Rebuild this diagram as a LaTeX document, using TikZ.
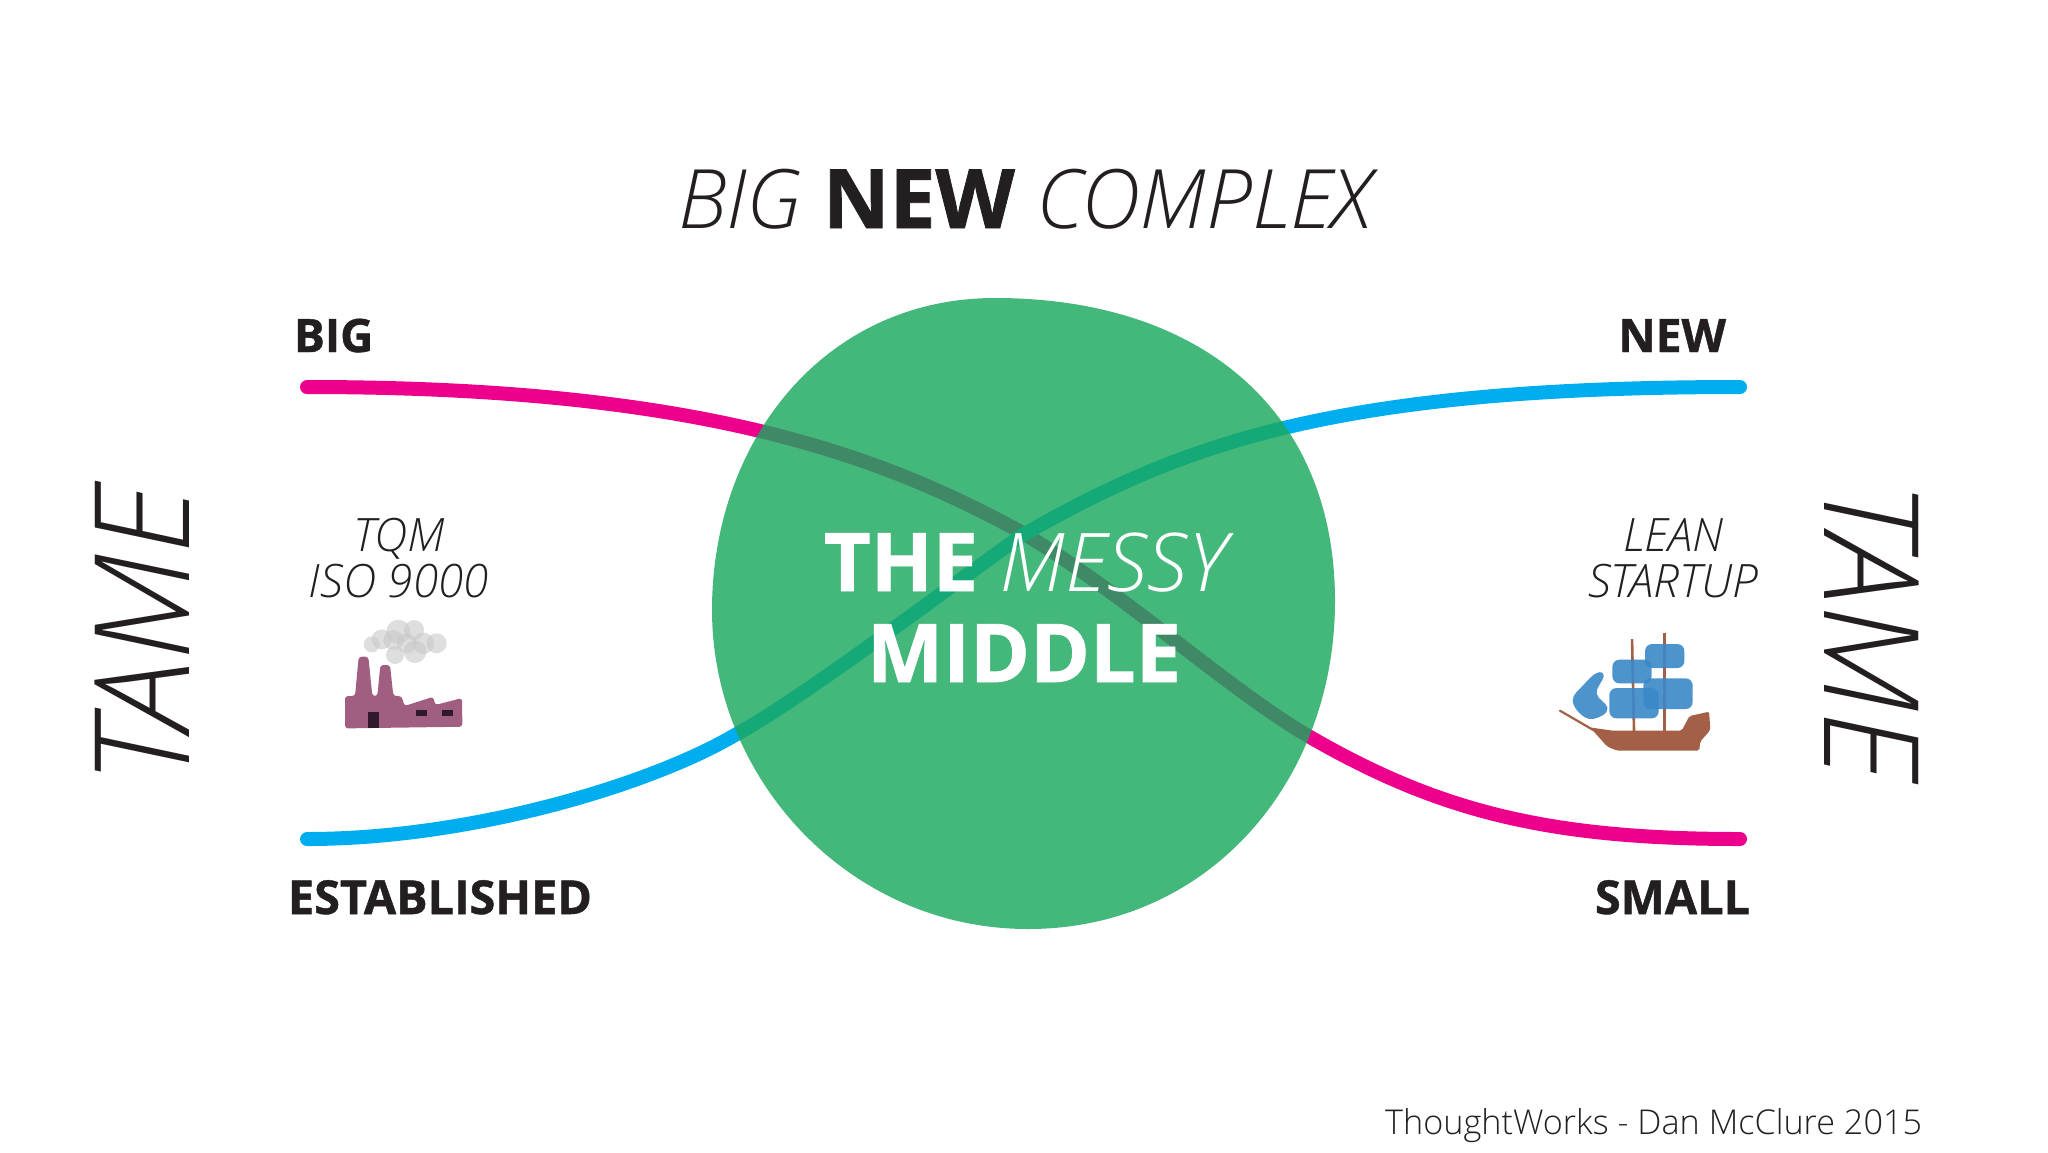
\documentclass[tikz,border=0pt]{standalone}
\usepackage{fontspec}
\setmainfont{Open Sans}
\newfontfamily\oslight[ItalicFont={Open Sans Light Italic}]{Open Sans Light}
\newfontfamily\osx[BoldFeatures={FakeBold=1.0}]{Open Sans}
\newcommand{\lit}{\oslight\itshape}
\newcommand{\xb}{\osx\bfseries}
\newcommand{\fs}[1]{\fontsize{#1}{#1}\selectfont}
\definecolor{ink}{HTML}{231F20}
\definecolor{mag}{HTML}{EC008C}
\definecolor{sky}{HTML}{00AEEF}
\definecolor{blob}{RGB}{27,168,94}
\definecolor{fact}{HTML}{A05F80}
\definecolor{factd}{HTML}{2E1A2C}
\definecolor{hull}{HTML}{A45F47}
\definecolor{sail}{HTML}{3A88C8}
\definecolor{smoke}{HTML}{C8C8C8}
\tikzset{
  x=0.5pt,y=-0.5pt,
  txt/.style={inner sep=0,outer sep=0,text=ink},
  curve/.style={line width=7pt,line cap=round},
  smokepuff/.style={smoke,opacity=.6},
  sailshape/.style={sail,opacity=.9,rounded corners=3.5pt},
}
\begin{document}
\begin{tikzpicture}
\useasboundingbox (0,0) rectangle (2048,1152);
\coordinate (bigstart) at (307,387);
\coordinate (smallend) at (1740,839);
\coordinate (eststart) at (307,839);
\coordinate (newend) at (1740,387);
\draw[curve,mag] (bigstart) .. controls (700,387) and (880,455) .. (1021,532) .. controls (1120,590) and (1230,691) .. (1310,737) .. controls (1440,812) and (1550,839) .. (smallend);
\draw[curve,sky] (eststart) .. controls (470,839) and (650,785) .. (735,735) .. controls (800,700) and (945,590) .. (1021,536) .. controls (1180,445) and (1330,387) .. (newend);
\fill[blob,opacity=.82] (995,298) .. controls (1200,298) and (1335,410) .. (1335,601) .. controls (1335,780) and (1210,929) .. (1028,929) .. controls (850,929) and (712,780) .. (712,610) .. controls (712,440) and (825,298) .. cycle;
% texts
\node[txt,anchor=base] (title) at (1025,228) {\fs{41}{\lit BIG }{\xb NEW }{\lit COMPLEX}};
\node[txt,anchor=base west] (big) at (294,352) {\fs{23}\xb BIG};
\node[txt,anchor=base east] (new) at (1726,352) {\fs{23}\xb NEW};
\node[txt,anchor=base west] (est) at (288,914) {\fs{23.4}\xb ESTABLISHED};
\node[txt,anchor=base east] (small) at (1750,914) {\fs{23.4}\xb SMALL};
\node[txt,anchor=base,text=white] (messy) at (1025,591) {\fs{40.5}{\xb THE }{\lit MESSY}};
\node[txt,anchor=base,text=white] (middle) at (1024,682) {\fs{40.5}\xb MIDDLE};
\node[txt,anchor=base] (tqm) at (399,551) {\fs{23}\lit TQM};
\node[txt,anchor=base] (iso) at (399,597) {\fs{23}\lit ISO 9000};
\node[txt,anchor=base] (lean) at (1673,551) {\fs{23}\lit LEAN};
\node[txt,anchor=base] (startup) at (1673,597) {\fs{23}\lit STARTUP};
\node[txt,anchor=base,rotate=90] (tamel) at (189,635) {\fs{66}\lit TAME};
\node[txt,anchor=base,rotate=-90] (tamer) at (1824,631) {\fs{66}\lit TAME};
\node[txt,anchor=base east] (credit) at (1922,1134) {\fs{17.1}\oslight ThoughtWorks - Dan McClure 2015};
% factory
\begin{scope}[shift={(300,480)},x=0.1667pt,y=-0.1667pt]
\foreach \a/\b/\r in {215/493/24,245/478/30,295/455/36,342/450/30,280/480/30,410/490/30,345/515/34,285/525/27,370/490/32,320/490/30}
  \fill[smokepuff] (\a,\b) circle[radius=\r];
\fill[fact,rounded corners=1.5pt] (135,745) -- (135,648) -- (165,648) -- (176,530) -- (205,530) -- (217,648) -- (232,648) -- (241,555) -- (270,555) -- (280,648) -- (305,648) -- (313,678) -- (400,650) -- (405,675) -- (486,654) -- (487,740) -- cycle;
\fill[factd] (205,695) rectangle (238,745);
\fill[factd] (349,690) rectangle (381,708);
\fill[factd] (426,690) rectangle (458,708);
\end{scope}
% ship
\begin{scope}[shift={(1530,490)},x=0.1667pt,y=-0.1667pt]
\draw[hull,line width=1.1pt,line cap=round] (90,662) -- (190,720);
\draw[hull,line width=1.3pt] (306,447) -- (312,725);
\draw[hull,line width=1.3pt] (403,428) -- (403,725);
\fill[hull,rounded corners=1pt] (180,712) -- (250,722) -- (455,722) -- (478,678) -- (537,665) -- (541,720) -- (510,755) -- (508,782) -- (262,782) -- (232,770) -- cycle;
\fill[sailshape] (345,462) rectangle (463,534);
\fill[sailshape] (247,509) rectangle (365,580);
\fill[sailshape] (340,565) rectangle (488,657);
\fill[sailshape] (238,594) rectangle (386,685);
\fill[sail,opacity=.9] plot[smooth cycle,tension=.7] coordinates {(128,632)(160,585)(200,549)(221,558)(200,610)(232,652)(210,680)(165,682)};
\end{scope}
\end{tikzpicture}
\end{document}
